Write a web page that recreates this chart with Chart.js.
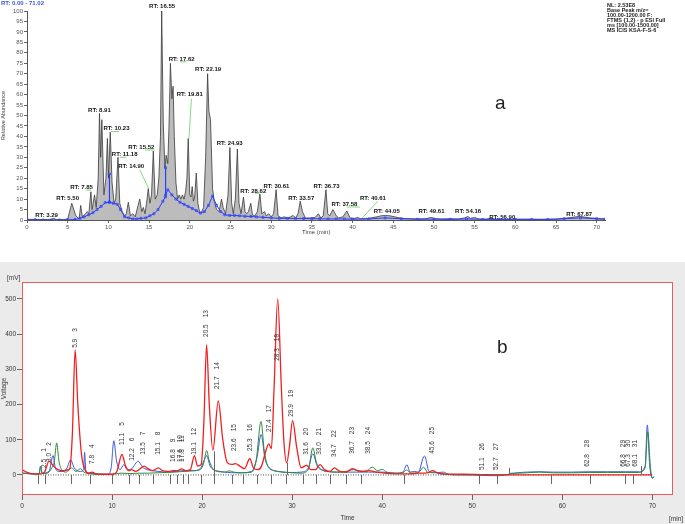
<!DOCTYPE html>
<html>
<head>
<meta charset="utf-8">
<script src="https://cdn.jsdelivr.net/npm/chart.js@4"></script>
<style>
  body { margin: 0; background: #fff; font-family: "Liberation Sans", Arial, sans-serif; }
  #wrap { position: relative; width: 685px; height: 524px; overflow: hidden; }
  #pa { position: absolute; left: 0; top: 0; }
  #panelB { position: absolute; left: 0; top: 262px; width: 685px; height: 262px; background: #ebebeb; }
  #pb { position: absolute; left: 0; top: 0; }
  .tag { position: absolute; font-size: 19px; color: #222; }
  #range { position: absolute; left: 1px; top: 0; font-size: 6px; font-weight: bold; color: #3a55d8; }
  #info { position: absolute; left: 607px; top: 3px; font-size: 5.5px; font-weight: bold; line-height: 5px; color: #222; white-space: nowrap; }
</style>
</head>
<body>
<div id="wrap">
  <canvas id="pa" width="685" height="240"></canvas>
  <div id="range">RT: 0.00 - 71.02</div>
  <div id="info">NL: 2.53E8<br>Base Peak m/z=<br>100.00-1200.00 F:<br>FTMS {1,2} - p ESI Full<br>ms [100.00-1500.00]<br>MS ICIS KSA-F-S-6</div>
  <div class="tag" style="left:495px; top:92px;">a</div>
  <div id="panelB">
    <canvas id="pb" width="685" height="262"></canvas>
    <div class="tag" style="left:497px; top:74px;">b</div>
  </div>
</div>
<script>
// ---- chart a: base peak chromatogram ----
const aTime = [0, 1, 2, 3, 3.3, 3.6, 4.5, 5.0, 5.5, 6.0, 6.4, 6.6, 6.8, 7.2, 7.4, 7.6, 7.85, 8.0, 8.3, 8.5, 8.75, 8.91, 9.05, 9.2, 9.45, 9.7, 9.88, 10.02, 10.23, 10.45, 10.7, 10.9, 11.18, 11.4, 11.7, 12.0, 12.2, 12.45, 12.7, 13.0, 13.3, 13.65, 13.85, 14.1, 14.3, 14.5, 14.75, 14.9, 15.1, 15.3, 15.52, 15.75, 16.0, 16.2, 16.4, 16.55, 16.75, 16.95, 17.1, 17.3, 17.45, 17.62, 17.8, 17.95, 18.1, 18.3, 18.5, 18.7, 18.9, 19.1, 19.3, 19.5, 19.65, 19.81, 20.0, 20.15, 20.3, 20.45, 20.6, 20.8, 21.0, 21.2, 21.4, 21.7, 21.95, 22.19, 22.35, 22.55, 22.8, 23.0, 23.3, 23.6, 23.9, 24.1, 24.4, 24.7, 24.93, 25.15, 25.35, 25.6, 25.85, 26.05, 26.3, 26.6, 26.8, 27.0, 27.2, 27.5, 27.7, 28.0, 28.3, 28.62, 28.85, 29.2, 29.4, 29.7, 30.0, 30.3, 30.61, 30.85, 31.2, 31.6, 32.0, 32.4, 32.7, 33.0, 33.3, 33.57, 33.85, 34.2, 34.8, 35.4, 35.8, 36.1, 36.4, 36.73, 36.95, 37.2, 37.58, 37.8, 38.0, 38.3, 38.8, 39.3, 39.7, 40.2, 40.61, 41.0, 42.0, 42.5, 43.0, 43.5, 44.05, 44.6, 45.2, 46, 47, 48, 49, 49.61, 50.2, 51, 52, 53, 53.8, 54.16, 54.5, 55, 55.5, 56.4, 56.9, 57.5, 59, 61, 63, 65, 66, 66.8, 67.4, 67.87, 68.5, 69.2, 70, 71];
const aAbund = [0.3, 0.3, 0.2, 0.3, 0.8, 0.2, 0.2, 0.5, 8, 2, 0.5, 7, 1.5, 3, 4, 3, 13.5, 5, 12, 6, 20, 51, 30, 48, 12, 20, 39, 20, 42, 18, 8, 10, 30, 8, 4, 2, 3, 8.5, 2, 3, 1.5, 7, 10, 4, 6, 3, 10, 15, 8, 12, 33, 10, 12, 20, 40, 100, 45, 25, 31, 27, 45, 75, 58, 64, 40, 18, 10, 12, 10, 12, 10, 14, 20, 39, 12, 11, 16, 9, 11, 22.5, 8, 4, 3.5, 6, 30, 70, 52, 48, 15, 9, 5, 4, 10, 6, 3, 12, 34.7, 8, 3, 10, 34, 8, 3, 11, 4, 3, 4, 8, 2.5, 2, 4, 12.4, 3, 4, 2, 3, 1.5, 3, 14.5, 2, 1, 1.5, 1, 1.5, 2.2, 1, 3, 9, 4, 1, 1, 1.2, 3, 1, 2, 14.5, 3, 2, 5, 3.5, 2, 1, 1.5, 4.3, 1, 0.7, 1.2, 0.6, 0.8, 1.2, 1.5, 2, 2.2, 2, 1.5, 0.8, 0.6, 0.5, 0.6, 1.2, 0.6, 0.5, 0.6, 0.5, 1, 1.7, 0.8, 1.2, 0.5, 0.4, 0.8, 0.4, 0.3, 0.4, 0.3, 0.4, 0.8, 1.2, 1.5, 1.7, 1.4, 1, 0.8, 0.5];

const baseTime = [0, 1, 2, 3, 4, 5, 5.9, 6.5, 7, 7.6, 8.1, 8.6, 9.1, 9.6, 10.1, 10.12, 10.14, 10.6, 11.1, 11.5, 12.0, 12.5, 13.0, 13.5, 14, 14.6, 15.1, 15.6, 16.1, 16.7, 17.0, 17.02, 17.04, 17.3, 17.8, 18.3, 18.8, 19.3, 19.8, 20.3, 20.8, 21.3, 21.8, 22.3, 22.8, 23.3, 23.8, 24.3, 24.9, 25.5, 26.1, 26.8, 27.5, 28.2, 29, 30, 31, 32, 33, 34, 35, 36, 37, 38, 39, 40, 42, 44, 46, 48, 50, 52, 54, 56, 58, 60, 62, 64, 66, 68, 70, 71];
const baseAbund = [0, 0.1, 0, 0, 0, 0.1, 0.2, 0.8, 1.5, 2.5, 3.5, 5, 6.5, 8.3, 8.5, 22, 8.5, 8, 7.5, 5, 1.5, 1, 0.5, 0.5, 0.8, 1, 2, 3, 5, 9, 11, 25, 12, 14.5, 12, 10, 8.5, 7.5, 6.5, 5.5, 4.5, 3.3, 4, 7, 11.5, 7, 4, 2.5, 2.2, 2.2, 2, 1.8, 1.7, 1.5, 1.3, 1, 0.8, 0.8, 0.7, 0.7, 0.6, 0.6, 0.5, 0.5, 0.5, 0.4, 0.5, 1, 0.6, 0.4, 0.4, 0.3, 0.5, 0.3, 0.3, 0.3, 0.3, 0.3, 0.6, 1, 0.6, 0.4];

const rtText = ['3.29', '5.50', '7.85', '8.91', '10.23', '11.18', '14.90', '15.52', '16.55', '17.62', '19.81', '22.19', '24.93', '28.62', '30.61', '33.57', '36.73', '37.58', '40.61', '44.05', '49.61', '54.16', '56.90', '67.87'];
const rtLabelX = [2.4, 5.0, 6.7, 8.9, 11.0, 12.0, 12.8, 14.05, 16.6, 19.0, 20.0, 22.25, 24.9, 27.8, 30.65, 33.7, 36.8, 39.0, 42.5, 44.2, 49.7, 54.2, 58.4, 67.85];
const rtLabelY = [1.7, 9.7, 15, 52, 43.4, 31, 25, 34.5, 101.6, 76.5, 59.5, 71.7, 36, 13, 15.6, 10, 15.6, 6.8, 10, 3.5, 3.5, 3.5, 1, 2.4];
// green leader lines [x1, y1, x2, y2]
const leaders = [
  [7.3, 14.3, 7.9, 14.3], [10.3, 42.3, 11.3, 42.3], [11.4, 30, 12.2, 30],
  [13.85, 24, 14.96, 15], [14.5, 33.5, 15.7, 33.5], [18.8, 75.7, 19.6, 75.7],
  [20.2, 58, 19.9, 39], [28.0, 12.8, 28.6, 12.8], [39.3, 6.2, 40.9, 6.2], [41.2, 1, 43.1, 9]
];
const aTimeTicks = [0, 5, 10, 15, 20, 25, 30, 35, 40, 45, 50, 55, 60, 65, 70];
const aAbundTicks = [0, 5, 10, 15, 20, 25, 30, 35, 40, 45, 50, 55, 60, 65, 70, 75, 80, 85, 90, 95, 100];

// ---- chart b: HPLC traces ----
const redT = [0, 0.5, 1, 1.5, 2, 2.5, 3.0, 3.5, 4.0, 4.5, 5.0, 5.3, 5.6, 5.9, 6.2, 6.6, 7.0, 7.4, 7.8, 8.2, 9, 10, 10.5, 11.1, 11.5, 11.9, 12.2, 12.6, 13.0, 13.55, 14.0, 14.5, 15.15, 15.6, 16.2, 16.8, 17.3, 17.7, 18.2, 18.7, 19.15, 19.5, 19.9, 20.2, 20.5, 20.8, 21.2, 21.8, 22.3, 22.8, 23.3, 23.7, 24.2, 24.7, 25.3, 25.7, 26.2, 26.6, 27.1, 27.4, 27.7, 28.0, 28.4, 28.8, 29.1, 29.4, 29.7, 30.05, 30.5, 31.0, 31.6, 32.1, 32.6, 33.1, 33.6, 34.2, 34.7, 35.3, 36.0, 36.7, 37.3, 38.0, 38.6, 39.3, 40, 41, 42, 43, 44, 45.0, 45.6, 46.2, 47, 49, 51, 53, 56, 60, 65, 69, 70];
const redV = [15, 8, 4, 3, 3, 8, 39, 25, 15, 12, 14, 18, 120, 356, 200, 60, 15, 5, 8, 3, 2, 2, 8, 58, 25, 12, 15, 10, 15, 25, 18, 12, 20, 12, 10, 12, 12, 17, 12, 15, 55, 25, 30, 150, 370, 200, 70, 210, 100, 35, 30, 32, 25, 18, 46, 20, 15, 25, 70, 88, 75, 250, 500, 250, 90, 34, 80, 155, 80, 20, 27, 15, 15, 29, 15, 10, 20, 10, 8, 18, 12, 10, 12, 8, 6, 4, 3, 3, 5, 6, 12, 5, 3, 2, 1, 0, 0, 0, 0, 0, 0];

const greenT = [0, 1, 1.9, 2.05, 2.25, 2.8, 3.3, 3.6, 3.85, 4.1, 4.4, 4.9, 5.5, 6.0, 6.5, 6.85, 7.2, 8, 9, 10, 11, 12, 13, 14, 15, 16, 17, 18, 19, 19.8, 20.2, 20.5, 20.8, 21.3, 22, 22.6, 23, 23.5, 24.5, 25.5, 26, 26.55, 26.9, 27.3, 28, 29, 30, 31, 31.8, 32.3, 32.7, 33.3, 34, 35, 36, 36.8, 37.5, 38.3, 38.9, 39.5, 40.0, 40.5, 41.5, 42.3, 42.7, 43.2, 44, 44.6, 45.1, 45.7, 46.5, 48, 50, 52, 53.5, 54.1, 54.3, 55, 56, 57.5, 59, 61, 63, 65, 67, 68.5, 69.2, 69.5, 69.8, 70.0, 70.2];
const greenV = [6, 3, 2, 22, 4, 5, 20, 40, 91, 40, 15, 8, 20, 10, 18, 8, 5, 2, 1, 2, 5, 4, 5, 5, 6, 7, 8, 10, 12, 15, 35, 69, 40, 15, 10, 8, 12, 8, 6, 8, 40, 152, 70, 25, 12, 8, 6, 5, 15, 77, 35, 15, 10, 8, 10, 15, 10, 12, 22, 12, 16, 8, 5, 6, 14, 5, 6, 22, 6, 8, 3, 1, 0, 0, 0, 1, 5, 5, 6, 8, 6, 6, 7, 7, 7, 7, 20, 123, 20, -10, -5];

const blueT = [0, 1, 1.9, 2.05, 2.25, 3.0, 3.45, 3.7, 4.1, 4.6, 5.0, 5.4, 5.8, 6.5, 6.85, 6.95, 7.1, 7.5, 8.5, 9.5, 9.9, 10.2, 10.5, 10.9, 11.3, 11.7, 12.2, 12.9, 13.4, 13.9, 14.5, 15.2, 16.0, 17, 18, 19, 19.8, 20.2, 20.5, 20.9, 21.5, 22.5, 24, 25.5, 26.1, 26.55, 27.0, 27.6, 28.5, 30, 31, 31.8, 32.3, 32.8, 33.5, 35, 37, 38.5, 40, 41.5, 42.3, 42.75, 43.1, 43.6, 44.0, 44.7, 45.2, 45.8, 46.8, 47.3, 48, 50, 52, 53, 53.5, 54.1, 55, 56, 57.5, 59, 61, 63, 65, 67, 68.5, 69.2, 69.45, 69.7, 70, 70.2];
const blueV = [5, 3, 3, 25, 5, 10, 55, 20, 10, 10, 20, 43, 20, 10, 15, 64, 10, 5, 3, 2, 20, 97, 40, 15, 29, 15, 18, 39, 22, 15, 12, 10, 8, 10, 12, 12, 18, 40, 55, 25, 12, 8, 6, 10, 50, 115, 45, 18, 10, 7, 8, 20, 60, 25, 12, 8, 8, 8, 8, 5, 8, 29, 8, 10, 8, 54, 10, 6, 8, 2, 0, 0, -2, -2, 0, 2, 6, 8, 9, 8, 8, 9, 9, 9, 9, 25, 142, 30, -8, -5];

const peakNo = ['1', '2', '3', '4', '5', '6', '7', '8', '9', '10', '11', '12', '13', '14', '15', '16', '17', '18', '19', '20', '21', '22', '23', '24', '25', '26', '27', '28', '29', '30', '31'];
const peakTime = ['2.5', '3.0', '5.9', '7.8', '11.1', '12.2', '13.5', '15.1', '16.8', '17.6', '17.8', '19.1', '20.5', '21.7', '23.6', '25.3', '27.4', '28.3', '29.9', '31.6', '33.0', '34.7', '36.7', '38.5', '45.6', '51.1', '52.7', '62.8', '66.8', '67.3', '68.1'];
const peakLabelBase = [20, 37, 361, 31, 85, 40, 57, 57, 37, 37, 37, 57, 392, 244, 68, 68, 122, 324, 165, 57, 57, 51, 60, 60, 60, 14, 14, 23, 23, 23, 23];
const tickDown = [1.8, 2.6, 5.4, 7.6, 10.0, 11.9, 13.0, 14.6, 16.4, 17.2, 17.9, 18.4, 19.9, 21.3, 23.3, 24.5, 26.1, 27.7, 29.3, 31.2, 32.6, 34.2, 36.0, 37.6, 42.4, 50.8, 52.7, 58.8, 63.1, 67.0, 67.9];
const dropTime = [21.3, 29.4, 54.1, 68.8];
const dropTop = [67, 34, 20, 25];
const zeroLineT = [1.5, 70];
const bTimeTicks = [0, 10, 20, 30, 40, 50, 60, 70];
const bVoltTicks = [0, 100, 200, 300, 400, 500];

const pts = (xs, ys) => xs.map((x, i) => ({ x, y: ys[i] }));
const FONT = '"Liberation Sans", Arial, sans-serif';

// ---------- chart a ----------
const rtPlugin = {
  id: 'rtLabels',
  afterDatasetsDraw(chart) {
    const { ctx, scales: { x, y } } = chart;
    ctx.save();
    ctx.strokeStyle = '#5fd35f';
    ctx.lineWidth = 0.8;
    leaders.forEach(l => {
      ctx.beginPath();
      ctx.moveTo(x.getPixelForValue(l[0]), y.getPixelForValue(l[1]));
      ctx.lineTo(x.getPixelForValue(l[2]), y.getPixelForValue(l[3]));
      ctx.stroke();
    });
    ctx.font = 'bold 6px ' + FONT;
    ctx.textAlign = 'center';
    ctx.textBaseline = 'bottom';
    ctx.fillStyle = '#111';
    rtText.forEach((t, i) => {
      ctx.fillText('RT: ' + t, x.getPixelForValue(rtLabelX[i]), y.getPixelForValue(rtLabelY[i]) + 2);
    });
    ctx.font = '6px ' + FONT;
    ctx.fillStyle = '#444';
    ctx.textAlign = 'left';
    ctx.fillText('Time (min)', 302, 235);
    ctx.restore();
  }
};

new Chart(document.getElementById('pa'), {
  type: 'line',
  data: {
    datasets: [
      {
        data: pts(baseTime, baseAbund),
        borderColor: '#2b3cff',
        borderWidth: 1,
        fill: false,
        pointRadius: 1.4,
        pointStyle: 'rect',
        pointBackgroundColor: 'rgba(0,0,0,0)',
        pointBorderColor: '#2b3cff',
        pointBorderWidth: 0.7,
        tension: 0,
      },
      {
        data: pts(aTime, aAbund),
        borderColor: '#3a3a3a',
        backgroundColor: '#bcbcbc',
        borderWidth: 0.8,
        fill: 'origin',
        pointRadius: 0,
        tension: 0,
      },
    ],
  },
  options: {
    responsive: false,
    animation: false,
    layout: { padding: { left: 0, right: 80, top: 11, bottom: 0 } },
    plugins: { legend: { display: false }, tooltip: { enabled: false } },
    scales: {
      x: {
        type: 'linear',
        min: 0,
        max: 71.02,
        afterBuildTicks: s => { s.ticks = aTimeTicks.map(v => ({ value: v })); },
        afterFit: s => { s.height = 20; },
        ticks: { font: { size: 6, family: FONT }, color: '#555', padding: 1, maxRotation: 0 },
        grid: { drawOnChartArea: false, tickLength: 3, color: '#666' },
        border: { color: '#555' },
      },
      y: {
        min: 0,
        max: 100,
        afterBuildTicks: s => { s.ticks = aAbundTicks.map(v => ({ value: v })); },
        afterFit: s => { s.width = 27; },
        ticks: { font: { size: 6, family: FONT }, color: '#555', padding: 1 },
        grid: { drawOnChartArea: false, tickLength: 3, color: '#666' },
        border: { color: '#555' },
        title: { display: true, text: 'Relative Abundance', font: { size: 5.5, family: FONT }, color: '#444', padding: 0 },
      },
    },
  },
  plugins: [rtPlugin],
});

// ---------- chart b ----------
const frameB = {
  id: 'frameB',
  beforeDraw(chart) {
    const { ctx, chartArea: a } = chart;
    ctx.save();
    ctx.fillStyle = '#fff';
    ctx.fillRect(a.left, a.top, a.right - a.left, a.bottom - a.top);
    ctx.restore();
  },
  afterDatasetsDraw(chart) {
    const { ctx, chartArea: a, scales: { x, y } } = chart;
    ctx.save();
    // peak boundary marks
    ctx.strokeStyle = '#666';
    ctx.lineWidth = 1;
    const y0 = y.getPixelForValue(0);
    tickDown.forEach(t => {
      const px = Math.round(x.getPixelForValue(t)) + 0.5;
      ctx.beginPath(); ctx.moveTo(px, y0); ctx.lineTo(px, y0 + 9); ctx.stroke();
    });
    dropTime.forEach((t, i) => {
      const px = Math.round(x.getPixelForValue(t)) + 0.5;
      ctx.beginPath(); ctx.moveTo(px, y0); ctx.lineTo(px, y.getPixelForValue(dropTop[i])); ctx.stroke();
    });
    // rotated peak labels
    ctx.font = '6.5px ' + FONT;
    ctx.fillStyle = '#333';
    ctx.textAlign = 'left';
    ctx.textBaseline = 'middle';
    peakTime.forEach((t, i) => {
      ctx.save();
      ctx.translate(x.getPixelForValue(parseFloat(t)), y.getPixelForValue(peakLabelBase[i]));
      ctx.rotate(-Math.PI / 2);
      ctx.fillText(t, 0, 0);
      const w = ctx.measureText(t).width;
      ctx.fillText(peakNo[i], w + 7, 0);
      ctx.restore();
    });
    // red frame
    ctx.strokeStyle = '#f25a5a';
    ctx.lineWidth = 1;
    ctx.strokeRect(a.left + 0.5, a.top + 0.5, a.right - a.left - 1, a.bottom - a.top - 1);
    // unit labels
    ctx.font = '6.5px ' + FONT;
    ctx.fillStyle = '#333';
    ctx.textBaseline = 'alphabetic';
    ctx.fillText('[mV]', 7, 18);
    ctx.fillText('[min]', 669, 259);
    ctx.restore();
  }
};

new Chart(document.getElementById('pb'), {
  type: 'line',
  data: {
    datasets: [
      { data: pts(redT, redV), borderColor: '#f02020', borderWidth: 1.3, pointRadius: 0, cubicInterpolationMode: 'monotone' },
      { data: pts(greenT, greenV), borderColor: '#2f8a3e', borderWidth: 1, pointRadius: 0, cubicInterpolationMode: 'monotone' },
      { data: pts(blueT, blueV), borderColor: '#3d5bd6', borderWidth: 1, pointRadius: 0, cubicInterpolationMode: 'monotone' },
      { data: pts(zeroLineT, [0, 0]), borderColor: '#222', borderWidth: 0.8, borderDash: [1, 1.5], pointRadius: 0 },
    ],
  },
  options: {
    responsive: false,
    animation: false,
    layout: { padding: { left: 0, right: 12, top: 20, bottom: 0 } },
    plugins: { legend: { display: false }, tooltip: { enabled: false } },
    scales: {
      x: {
        type: 'linear',
        min: 0,
        max: 72.3,
        afterBuildTicks: s => { s.ticks = bTimeTicks.map(v => ({ value: v })); },
        afterFit: s => { s.height = 29; },
        ticks: { font: { size: 6.5, family: FONT }, color: '#333', padding: 2, maxRotation: 0 },
        grid: { drawOnChartArea: false, tickLength: 5, color: '#666' },
        border: { display: false },
        title: { display: true, text: 'Time', font: { size: 6.5, family: FONT }, color: '#333', padding: { top: 0, bottom: 2 } },
      },
      y: {
        min: -57,
        max: 548,
        afterBuildTicks: s => { s.ticks = bVoltTicks.map(v => ({ value: v })); },
        afterFit: s => { s.width = 22; },
        ticks: { font: { size: 6.5, family: FONT }, color: '#333', padding: 1 },
        grid: { drawOnChartArea: false, tickLength: 5, color: '#666' },
        border: { display: false },
        title: { display: true, text: 'Voltage', font: { size: 6.5, family: FONT }, color: '#333', padding: 0 },
      },
    },
  },
  plugins: [frameB],
});
</script>
</body>
</html>
